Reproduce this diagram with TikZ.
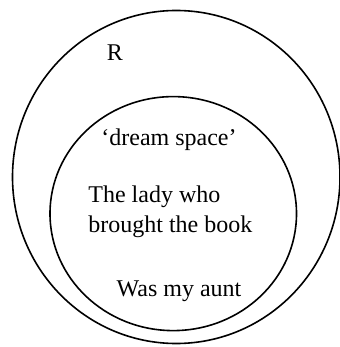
\documentclass[tikz,border=0pt]{standalone}
\usepackage{fontspec}
\setmainfont{Liberation Serif}
\usetikzlibrary{shapes.geometric}

\begin{document}
\begin{tikzpicture}[x=0.5pt, y=-0.5pt, every node/.style={font=\fontsize{12pt}{15pt}\selectfont},
  ring/.style={draw, ellipse, line width=0.8pt, inner sep=0pt}]
    \useasboundingbox (0,0) rectangle (339,347);

    % the two regions
    \node[ring, minimum width=163.75pt, minimum height=166.5pt] (outer) at (176.25,177) {};
    \node[ring, minimum width=123.25pt, minimum height=117pt] (inner) at (173.25,213.6) {};

    % labels
    \node[anchor=base] (rlabel) at (115,61) {R};
    \node[anchor=base] (dream) at (169,146) {`dream space'};
    \node[anchor=base west, align=left, inner sep=0pt] (lady) at (88,232) {The lady who\\ brought the book};
    \node[anchor=base] (aunt) at (179,296) {Was my aunt};
\end{tikzpicture}
\end{document}
